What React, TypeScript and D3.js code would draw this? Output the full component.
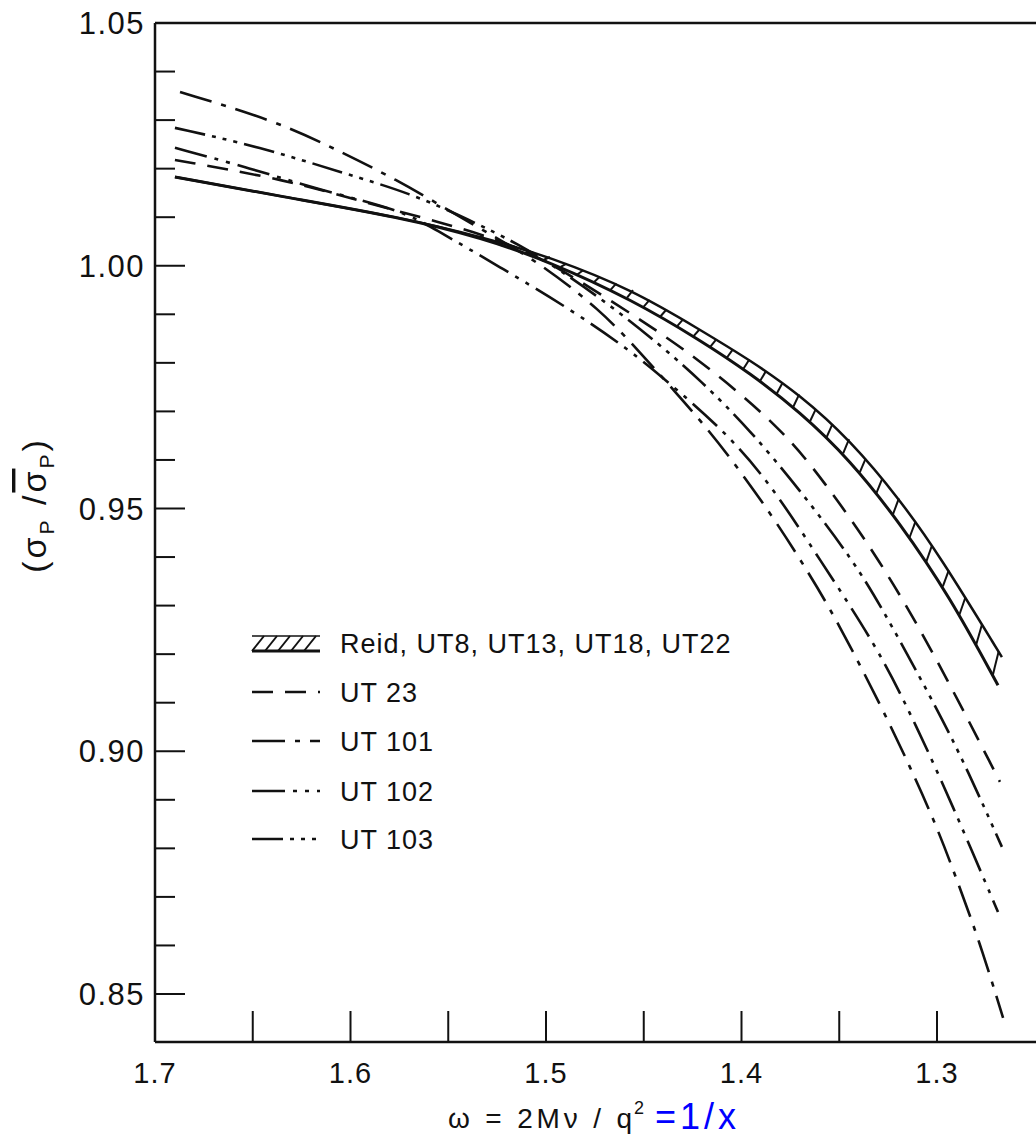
import React from "react";
import * as d3 from "d3";

type Pt = [number, number];

// ---------- data (omega, sigma ratio) ----------
const reidUpper: Pt[] = [
  [1.6898, 1.0183], [1.6345, 1.0142], [1.5747, 1.0100], [1.5322, 1.0059],
  [1.4980, 1.0018], [1.4555, 0.9950], [1.4212, 0.9868], [1.3957, 0.9806],
  [1.3701, 0.9734], [1.3445, 0.9641], [1.3189, 0.9518], [1.2985, 0.9402],
  [1.2668, 0.9194],
];
const reidLower: Pt[] = [
  [1.6898, 1.0183], [1.6345, 1.0142], [1.5747, 1.0100], [1.5322, 1.0057],
  [1.4980, 1.0008], [1.4555, 0.9929], [1.4212, 0.9847], [1.3957, 0.9779],
  [1.3701, 0.9699], [1.3445, 0.9600], [1.3189, 0.9470], [1.2934, 0.9318],
  [1.2688, 0.9136],
];
const ut23: Pt[] = [
  [1.6898, 1.0218], [1.6325, 1.0177], [1.5916, 1.0129], [1.5542, 1.0090],
  [1.5235, 1.0053], [1.4980, 1.0008], [1.4535, 0.9894], [1.4212, 0.9806],
  [1.3803, 0.9668], [1.3583, 0.9559], [1.3292, 0.9394], [1.3010, 0.9198],
  [1.2678, 0.8937],
];
const ut101: Pt[] = [
  [1.6872, 1.0358], [1.6396, 1.0300], [1.6090, 1.0243], [1.5762, 1.0177],
  [1.5476, 1.0109], [1.5235, 1.0053], [1.5031, 1.0005], [1.4724, 0.9910],
  [1.4519, 0.9822], [1.4330, 0.9736], [1.4212, 0.9682], [1.4059, 0.9606],
  [1.3839, 0.9483], [1.3665, 0.9373], [1.3512, 0.9270], [1.3276, 0.9085],
  [1.3138, 0.8968], [1.3000, 0.8844], [1.2898, 0.8735], [1.2780, 0.8605],
  [1.2662, 0.8451],
];
const ut102: Pt[] = [
  [1.6898, 1.0243], [1.6514, 1.0201], [1.6156, 1.0156], [1.5747, 1.0115],
  [1.5578, 1.0078], [1.5235, 0.9997], [1.4893, 0.9915], [1.4570, 0.9826],
  [1.4381, 0.9762], [1.4110, 0.9668], [1.3870, 0.9562], [1.3598, 0.9394],
  [1.3307, 0.9215], [1.3138, 0.9079], [1.2985, 0.8947], [1.2816, 0.8790],
  [1.2688, 0.8669],
];
const ut103: Pt[] = [
  [1.6898, 1.0284], [1.6463, 1.0245], [1.6038, 1.0191], [1.5696, 1.0150],
  [1.5389, 1.0094], [1.5133, 1.0043], [1.4928, 0.9991], [1.4673, 0.9919],
  [1.4417, 0.9837], [1.4212, 0.9765], [1.3957, 0.9662], [1.3701, 0.9538],
  [1.3430, 0.9394], [1.3276, 0.9291], [1.3072, 0.9141], [1.2882, 0.8996],
  [1.2668, 0.8803],
];

const xTickValues = [1.7, 1.6, 1.5, 1.4, 1.3];
const xTickLabels = ["1.7", "1.6", "1.5", "1.4", "1.3"];
const xMarkTicks = [1.65, 1.6, 1.55, 1.5, 1.45, 1.4, 1.35, 1.3];
const yTickValues = [1.05, 1.0, 0.95, 0.9, 0.85];
const yTickLabels = ["1.05", "1.00", "0.95", "0.90", "0.85"];
const legendLabels = [
  "Reid, UT8, UT13, UT18, UT22",
  "UT 23",
  "UT 101",
  "UT 102",
  "UT 103",
];

// ---------- layout ----------
const W = 1036;
const H = 1139;
const X0 = 155;
const TOP = 23;
const BOTTOM = 1042;
const FONT = "'Liberation Sans', Arial, sans-serif";

const x = d3.scaleLinear().domain([1.7, 1.3]).range([155, 937]);
const y = d3.scaleLinear().domain([0.85, 1.05]).range([994, 23]);

const line = d3
  .line<Pt>()
  .x((d) => x(d[0]))
  .y((d) => y(d[1]))
  .curve(d3.curveBasis);

function interp(data: Pt[], X: number): number {
  for (let i = 0; i < data.length - 1; i++) {
    const a = data[i];
    const b = data[i + 1];
    if ((X <= a[0] && X >= b[0]) || (X >= a[0] && X <= b[0])) {
      const t = (X - a[0]) / (b[0] - a[0]);
      return a[1] + t * (b[1] - a[1]);
    }
  }
  return data[data.length - 1][1];
}

const dashes = {
  ut23: "21 12",
  ut101: "33 10 5 10",
  ut102: "33 8 4 8 4 8",
  ut103: "31 7 4 7 4 7 4 7",
};

export default function App() {
  const yMinor = y.ticks(20);
  const rungX = d3.range(1.535, 1.268, -0.0085);

  const series = [
    { data: ut23, dash: dashes.ut23 },
    { data: ut101, dash: dashes.ut101 },
    { data: ut102, dash: dashes.ut102 },
    { data: ut103, dash: dashes.ut103 },
  ];

  const legendY = [643, 692, 741, 791, 839];
  const legendDash = [null, dashes.ut23, dashes.ut101, dashes.ut102, dashes.ut103];

  return (
    <svg
      width={W}
      height={H}
      style={{ position: "absolute", left: 0, top: 0, background: "#fff" }}
      fontFamily={FONT}
    >
      <rect width={W} height={H} fill="#fff" />
      {/* frame */}
      <line x1={X0} x2={W} y1={TOP} y2={TOP} stroke="#111" strokeWidth={2.5} />
      <line x1={X0} x2={X0} y1={TOP} y2={BOTTOM} stroke="#111" strokeWidth={2.5} />
      <line x1={X0} x2={W} y1={BOTTOM} y2={BOTTOM} stroke="#111" strokeWidth={2.5} />

      {/* y ticks */}
      {yMinor.map((v) => {
        const major = Math.abs(Math.round(v * 20) - v * 20) < 1e-6;
        return (
          <line
            key={"ym" + v}
            x1={X0}
            x2={X0 + (major ? 30 : 20)}
            y1={y(v)}
            y2={y(v)}
            stroke="#111"
            strokeWidth={2}
          />
        );
      })}
      {yTickValues.map((v, i) => (
        <text
          key={"yl" + v}
          x={X0 - 10}
          y={y(v)}
          dy="0.36em"
          textAnchor="end"
          fontSize={31}
          letterSpacing={1.5}
          fill="#111"
        >
          {yTickLabels[i]}
        </text>
      ))}

      {/* x ticks */}
      {xMarkTicks.map((v) => (
        <line
          key={"xt" + v}
          x1={x(v)}
          x2={x(v)}
          y1={BOTTOM}
          y2={BOTTOM - 31}
          stroke="#111"
          strokeWidth={2}
        />
      ))}
      {xTickValues.map((v, i) => (
        <text
          key={"xl" + v}
          x={x(v)}
          y={1083}
          textAnchor="middle"
          fontSize={29}
          letterSpacing={1}
          fill="#111"
        >
          {xTickLabels[i]}
        </text>
      ))}

      {/* axis titles */}
      <text
        transform="translate(46,505) rotate(-90)"
        textAnchor="middle"
        fontSize={34}
        letterSpacing={3}
        fill="#111"
      >
        (σ
        <tspan fontSize={21} dy={8}>P</tspan>
        <tspan dy={-8}> /</tspan>
        <tspan style={{ textDecoration: "overline" }}>σ</tspan>
        <tspan fontSize={21} dy={8}>P</tspan>
        <tspan dy={-8}>)</tspan>
      </text>
      <text
        x={448}
        y={1128}
        fontSize={28}
        textLength={184}
        lengthAdjust="spacing"
        fill="#111"
      >
        ω = 2Mν / q
      </text>
      <text x={634} y={1114} fontSize={18} fill="#111">
        2
      </text>
      <text x={655} y={1129} fontSize={36} letterSpacing={4} fill="#0000ff">
        =1/x
      </text>

      {/* Reid band */}
      <path d={line(reidUpper) || ""} fill="none" stroke="#111" strokeWidth={2.5} />
      <path d={line(reidLower) || ""} fill="none" stroke="#111" strokeWidth={3} />
      {rungX.map((X) => (
        <line
          key={"r" + X}
          x1={x(X)}
          y1={y(interp(reidLower, X))}
          x2={x(X - 0.003)}
          y2={y(interp(reidUpper, X - 0.003))}
          stroke="#111"
          strokeWidth={2}
        />
      ))}

      {/* dashed series */}
      {series.map((s, i) => (
        <path
          key={"s" + i}
          d={line(s.data) || ""}
          fill="none"
          stroke="#111"
          strokeWidth={2.6}
          strokeDasharray={s.dash}
        />
      ))}

      {/* legend */}
      {legendLabels.map((lab, i) => (
        <g key={"lg" + i}>
          {i === 0 ? (
            <g>
              <line x1={252} x2={320} y1={636} y2={636} stroke="#111" strokeWidth={1.5} />
              <line x1={252} x2={320} y1={651} y2={651} stroke="#111" strokeWidth={3} />
              {d3.range(252, 316, 13).map((px) => (
                <line
                  key={"h" + px}
                  x1={px}
                  y1={651}
                  x2={px + 12}
                  y2={636}
                  stroke="#111"
                  strokeWidth={2}
                />
              ))}
            </g>
          ) : (
            <line
              x1={252}
              x2={320}
              y1={legendY[i]}
              y2={legendY[i]}
              stroke="#111"
              strokeWidth={2.6}
              strokeDasharray={legendDash[i] || undefined}
            />
          )}
          <text
            x={340}
            y={legendY[i]}
            dy="0.36em"
            fontSize={27}
            letterSpacing={1}
            fill="#111"
          >
            {lab}
          </text>
        </g>
      ))}
    </svg>
  );
}
